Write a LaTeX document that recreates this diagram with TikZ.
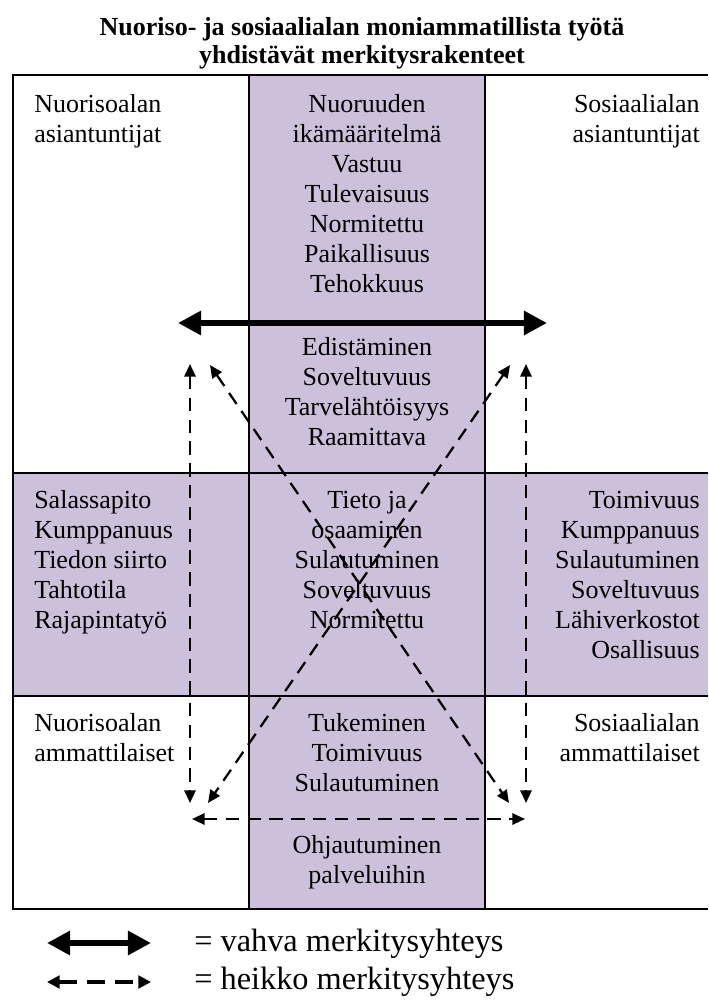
\documentclass[tikz,border=0pt]{standalone}
\usepackage{fontspec}
\setmainfont{Liberation Serif}
\usetikzlibrary{arrows.meta}
\definecolor{lila}{HTML}{CCC0DA}
\newcommand{\solufont}{\fontsize{18.5}{21.34}\selectfont}
\newcommand{\otsfont}{\fontsize{18.5}{19.92}\selectfont\bfseries}
\newcommand{\selitefont}{\fontsize{23}{27}\selectfont}
\tikzset{
  solu/.style={inner sep=0pt, font=\solufont},
  viiva/.style={line width=1pt},
  vahva/.style={line width=4.1pt, arrows={Triangle[length=16.4pt,width=16.4pt]-Triangle[length=16.4pt,width=16.4pt]}},
  heikko/.style={line width=1.6pt, dash pattern=on 9.5pt off 6pt, arrows={Triangle[length=9pt,width=8pt]-Triangle[length=9pt,width=8pt]}},
  heikkoSel/.style={line width=2.4pt, dash pattern=on 13pt off 7pt, arrows={Triangle[length=9pt,width=9pt]-Triangle[length=9pt,width=9pt]}}
}
\begin{document}
\begin{tikzpicture}[x=0.025cm, y=-0.025cm]
\useasboundingbox (0,0) rectangle (708,1003);
\fill[lila] (249,75) rectangle (485,909);
\fill[lila] (13,473) rectangle (708,696);
\draw[viiva] (708,75) -- (13,75) -- (13,909) -- (708,909);
\draw[viiva] (249,75) -- (249,909);
\draw[viiva] (485,75) -- (485,909);
\draw[viiva] (13,473) -- (708,473);
\draw[viiva] (13,696) -- (708,696);

\node (otsikko) at (362,16) [anchor=north, inner sep=0pt, font=\otsfont, align=center] {\strut Nuoriso- ja sosiaalialan moniammatillista työtä\\yhdistävät merkitysrakenteet};

\node (nuorAsi) at (34,91) [solu, anchor=north west, align=left] {\strut Nuorisoalan\\asiantuntijat};
\node (keskiYla) at (367,91) [solu, anchor=north, align=center] {\strut Nuoruuden\\ikämääritelmä\\Vastuu\\Tulevaisuus\\Normitettu\\Paikallisuus\\Tehokkuus};
\node (sosAsi) at (700,91) [solu, anchor=north east, align=right] {\strut Sosiaalialan\\asiantuntijat};
\node (keskiAla) at (367,334) [solu, anchor=north, align=center] {\strut Edistäminen\\Soveltuvuus\\Tarvelähtöisyys\\Raamittava};

\node (nuorYht) at (34,487) [solu, anchor=north west, align=left] {\strut Salassapito\\Kumppanuus\\Tiedon siirto\\Tahtotila\\Rajapintatyö};
\node (keskiYht) at (367,487) [solu, anchor=north, align=center] {\strut Tieto ja\\osaaminen\\Sulautuminen\\Soveltuvuus\\Normitettu};
\node (sosYht) at (700,487) [solu, anchor=north east, align=right] {\strut Toimivuus\\Kumppanuus\\Sulautuminen\\Soveltuvuus\\Lähiverkostot\\Osallisuus};

\node (nuorAmm) at (34,710) [solu, anchor=north west, align=left] {\strut Nuorisoalan\\ammattilaiset};
\node (keskiAmm) at (367,710) [solu, anchor=north, align=center] {\strut Tukeminen\\Toimivuus\\Sulautuminen};
\node (sosAmm) at (700,710) [solu, anchor=north east, align=right] {\strut Sosiaalialan\\ammattilaiset};
\node (ohjaus) at (367,832) [solu, anchor=north, align=center] {\strut Ohjautuminen\\palveluihin};

\coordinate (vahvaV) at (178,323);
\coordinate (vahvaO) at (547,323);
\coordinate (vasYla) at (190,364);
\coordinate (vasAla) at (190,803);
\coordinate (oikYla) at (526,364);
\coordinate (oikAla) at (526,803);
\coordinate (diagVY) at (210,365);
\coordinate (diagOA) at (509,803);
\coordinate (diagOY) at (510,365);
\coordinate (diagVA) at (208,803);
\coordinate (vaakaV) at (192,819);
\coordinate (vaakaO) at (525,819);

\draw[vahva] (vahvaV) -- (vahvaO);
\draw[heikko] (vasYla) -- (vasAla);
\draw[heikko] (oikYla) -- (oikAla);
\draw[heikko] (diagVY) -- (diagOA);
\draw[heikko] (diagOY) -- (diagVA);
\draw[heikko] (vaakaV) -- (vaakaO);

\coordinate (selV1) at (47,943);
\coordinate (selO1) at (151,943);
\coordinate (selV2) at (47,982);
\coordinate (selO2) at (151,982);
\draw[vahva] (selV1) -- (selO1);
\draw[heikkoSel] (selV2) -- (selO2);
\node (vahvaTeksti) at (194,951) [anchor=base west, inner sep=0pt, font=\selitefont] {= vahva merkitysyhteys};
\node (heikkoTeksti) at (194,989) [anchor=base west, inner sep=0pt, font=\selitefont] {= heikko merkitysyhteys};
\end{tikzpicture}
\end{document}
